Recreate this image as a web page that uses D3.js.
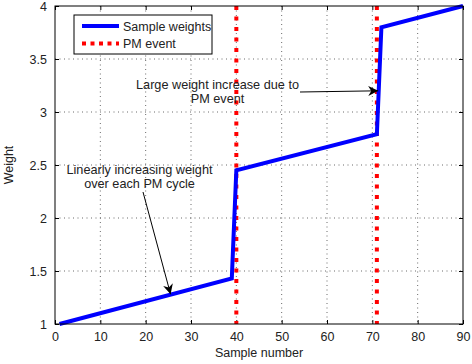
<!DOCTYPE html>
<html>
<head>
<meta charset="utf-8">
<script src="https://cdn.jsdelivr.net/npm/d3@7"></script>
<style>
  body { margin: 0; background: #fff; }
  svg text { font-family: "Liberation Sans", Arial, sans-serif; fill: #222; }
</style>
</head>
<body>
<svg id="chart" width="472" height="364"></svg>
<script>
// sample weights (vertices of the piecewise linear curve)
var sampleX = [1, 39, 40, 71, 72, 90],
    sampleW = [1.0, 1.43, 2.45, 2.79, 3.8, 4.0]

// PM events
var pmEvents = [40, 71]

var xTicks = [0, 10, 20, 30, 40, 50, 60, 70, 80, 90],
    yTicks = [1, 1.5, 2, 2.5, 3, 3.5, 4]

var margin = {left: 55, right: 9, top: 6, bottom: 40},
    width = 472 - margin.left - margin.right,
    height = 364 - margin.top - margin.bottom

var svg = d3.select('#chart')
var g = svg.append('g').attr('transform', 'translate(' + margin.left + ',' + margin.top + ')')

var x = d3.scaleLinear().domain([0, 90]).range([0, width])
var y = d3.scaleLinear().domain([1, 4]).range([height, 0])

// grid
g.append('g').selectAll('line')
    .data(xTicks.slice(1, -1))
    .enter().append('line')
    .attr('x1', d => x(d)).attr('x2', d => x(d))
    .attr('y1', 0).attr('y2', height)
    .attr('stroke', '#444').attr('stroke-width', 0.8)
    .attr('stroke-dasharray', '1,3.5')

g.append('g').selectAll('line')
    .data(yTicks.slice(1, -1))
    .enter().append('line')
    .attr('y1', d => y(d)).attr('y2', d => y(d))
    .attr('x1', 0).attr('x2', width)
    .attr('stroke', '#444').attr('stroke-width', 0.8)
    .attr('stroke-dasharray', '1,3.5')

// axes, ticks point inward
var xAxis = g.append('g').attr('transform', 'translate(0,' + height + ')')
    .call(d3.axisBottom(x).tickValues(xTicks).tickSize(-4).tickPadding(8).tickFormat(d3.format('d')))
var xTop = g.append('g')
    .call(d3.axisTop(x).tickValues(xTicks).tickSize(-4).tickFormat(''))
var yAxis = g.append('g')
    .call(d3.axisLeft(y).tickValues(yTicks).tickSize(-4).tickPadding(8).tickFormat(d => String(d)))
var yRight = g.append('g').attr('transform', 'translate(' + width + ',0)')
    .call(d3.axisRight(y).tickValues(yTicks).tickSize(-4).tickFormat(''))

g.selectAll('.domain').remove()
g.selectAll('.tick line').attr('stroke', '#000')
g.selectAll('.tick text').style('font-size', '12.5px').attr('fill', '#222')

// pm events
g.append('g').selectAll('line')
    .data(pmEvents)
    .enter().append('line')
    .attr('x1', d => x(d)).attr('x2', d => x(d))
    .attr('y1', 0).attr('y2', height)
    .attr('stroke', '#ff0000').attr('stroke-width', 4)
    .attr('stroke-dasharray', '4,6.5')

// sample weights
var pts = sampleX.map((d, i) => [d, sampleW[i]])
g.append('path')
    .datum(pts)
    .attr('fill', 'none')
    .attr('stroke', '#0000ff')
    .attr('stroke-width', 4)
    .attr('stroke-linejoin', 'miter')
    .attr('d', d3.line().x(d => x(d[0])).y(d => y(d[1])))

// frame
g.append('rect')
    .attr('width', width).attr('height', height)
    .attr('fill', 'none').attr('stroke', '#000').attr('stroke-width', 1)

// axis labels
svg.append('text')
    .attr('x', margin.left + width / 2).attr('y', 357)
    .attr('text-anchor', 'middle')
    .style('font-size', '12.5px')
    .text('Sample number')

svg.append('text')
    .attr('transform', 'translate(13,' + (margin.top + height / 2) + ') rotate(-90)')
    .attr('text-anchor', 'middle')
    .style('font-size', '12.5px')
    .text('Weight')

// annotations
svg.append('defs').append('marker')
    .attr('id', 'arrow')
    .attr('viewBox', '0 0 10 10')
    .attr('refX', 10).attr('refY', 5)
    .attr('markerWidth', 12).attr('markerHeight', 10)
    .attr('markerUnits', 'userSpaceOnUse')
    .attr('orient', 'auto')
    .append('path')
    .attr('d', 'M0,0 L10,5 L0,10 L3,5 Z')
    .attr('fill', '#000')

var notes = [
    {lines: ['Linearly increasing weight', 'over each PM cycle'], tx: 139.5, ty: 174, from: [143, 192], to: [25.5, 1.28]},
    {lines: ['Large weight increase due to', 'PM event'], tx: 217.5, ty: 89, from: [300, 92], to: [71.3, 3.2]}
]

notes.forEach(n => {
    var t = svg.append('text')
        .attr('text-anchor', 'middle')
        .style('font-size', '12.7px')
    n.lines.forEach((s, i) => {
        t.append('tspan').attr('x', n.tx).attr('y', n.ty + i * 13.7).text(s)
    })
    svg.append('line')
        .attr('x1', n.from[0]).attr('y1', n.from[1])
        .attr('x2', margin.left + x(n.to[0])).attr('y2', margin.top + y(n.to[1]))
        .attr('stroke', '#000').attr('stroke-width', 1)
        .attr('marker-end', 'url(#arrow)')
})

// legend
var legend = svg.append('g').attr('transform', 'translate(74,15)')
legend.append('rect')
    .attr('width', 138).attr('height', 39)
    .attr('fill', '#fff').attr('stroke', '#000').attr('stroke-width', 1)

var legendItems = [
    {name: 'Sample weights', color: '#0000ff', dash: null},
    {name: 'PM event', color: '#ff0000', dash: '4,4.5'}
]
var item = legend.selectAll('g.item')
    .data(legendItems)
    .enter().append('g')
    .attr('class', 'item')
    .attr('transform', (d, i) => 'translate(0,' + (11 + i * 17.5) + ')')
item.append('line')
    .attr('x1', 8).attr('x2', 45)
    .attr('stroke', d => d.color).attr('stroke-width', 4)
    .attr('stroke-dasharray', d => d.dash)
item.append('text')
    .attr('x', 49).attr('y', 4.5)
    .style('font-size', '12.5px')
    .text(d => d.name)
</script>
</body>
</html>
